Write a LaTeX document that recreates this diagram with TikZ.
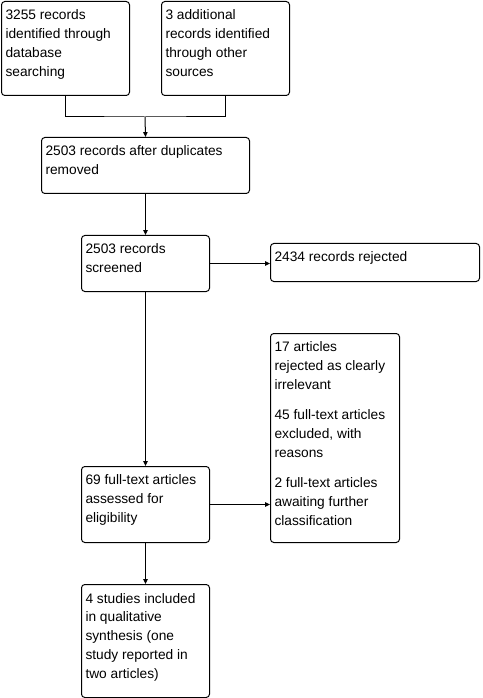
\documentclass[tikz,border=0pt]{standalone}
\usepackage{fontspec}
\setmainfont{Liberation Sans}
\usetikzlibrary{arrows.meta}
\newdimen\pxunit \pxunit=0.75pt
\newcommand{\stagebox}[3]{\parbox[t][#2\pxunit][t]{#1\pxunit}{\vspace*{1pt}\raggedright\strut#3}}
\tikzset{stage/.style = {draw, rounded corners = 2.5pt, anchor = north west, inner xsep = 3pt, inner ysep = 3pt, font = \fontsize{10.3pt}{14.1pt}\selectfont},
  flow/.style = {-{Triangle[length = 3.6pt, width = 3.2pt]}}}

\begin{document}
\begin{tikzpicture}[x = 0.75pt, y = -0.75pt, line width = 0.75pt]
      \useasboundingbox (0, 0) rectangle (482, 698);

      \node [stage] (database) at (1, 1) {\stagebox{120}{86}{3255 records\\identified through\\database\\searching}};
      \node [stage] (other) at (161, 1) {\stagebox{120}{86}{3 additional\\records identified\\through other\\sources}};
      \node [stage] (dupes) at (41, 137) {\stagebox{200}{48}{2503 records after duplicates\\removed}};
      \node [stage] (screened) at (81, 235) {\stagebox{120}{48}{2503 records\\screened}};
      \node [stage] (rejected) at (270, 243) {\stagebox{201}{30}{2434 records rejected}};
      \node [stage] (reasons) at (270, 333) {\stagebox{121}{201}{17 articles\\rejected as clearly\\irrelevant\\[8.5pt]45 full-text articles\\excluded, with\\reasons\\[8.5pt]2 full-text articles\\awaiting further\\classification}};
      \node [stage] (eligible) at (81, 466) {\stagebox{120}{68}{69 full-text articles\\assessed for\\eligibility}};
      \node [stage] (included) at (81, 584) {\stagebox{120}{105}{4 studies included\\in qualitative\\synthesis (one\\study reported in\\two articles)}};

      \coordinate (merge) at (145, 117);
      \draw (database.south) |- (merge) -| (other.south);
      \draw [flow] (merge) -- (dupes.north);
      \draw [flow] (dupes.south) -- (screened.north);
      \draw [flow] (screened.east) -- (screened.east -| rejected.west);
      \draw [flow] (screened.south) -- (eligible.north);
      \draw [flow] (eligible.east) -- (eligible.east -| reasons.west);
      \draw [flow] (eligible.south) -- (included.north);
    \end{tikzpicture}
\end{document}
